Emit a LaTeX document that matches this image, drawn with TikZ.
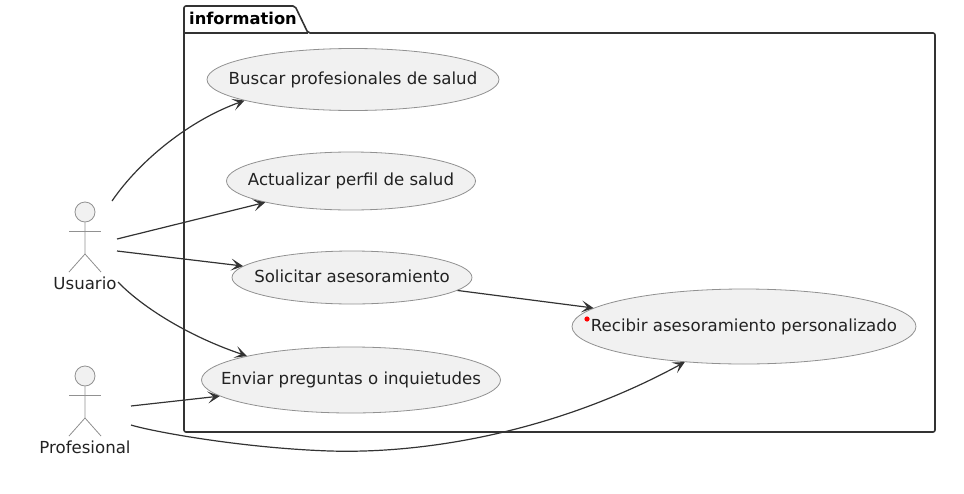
\documentclass[tikz,border=0pt]{standalone}
\usepackage{fontspec}
\setmainfont{DejaVu Sans}
\usetikzlibrary{arrows.meta, shapes.geometric}
\definecolor{mInk}{HTML}{222222}
\definecolor{mLine}{HTML}{919191}
\definecolor{mFill}{HTML}{F1F1F1}
\definecolor{mEdge}{HTML}{333333}
\newcommand{\uctext}[1]{\makebox[0pt]{\smash{\raisebox{-4.5pt}{#1}}}}
\tikzset{
  usecase/.style={ellipse, draw=mLine, fill=mFill, line width=0.8pt, inner sep=0pt, text=mInk, font=\fontsize{16.6}{19}\selectfont},
  actorlabel/.style={text=mInk, inner sep=0pt, font=\fontsize{16.6}{19}\selectfont},
  actorline/.style={draw=mLine, line width=0.8pt},
  edge/.style={draw=mEdge, line width=1.2pt, -{Stealth[length=12pt, width=12pt, inset=6pt]}}
}
\begin{document}
\begin{tikzpicture}[x=1pt, y=-1pt]
  \useasboundingbox (0,0) rectangle (964,493);
  % package
  \draw[mEdge, line width=1.6pt, rounded corners=2pt] (184,33) -- (184,6) -- (295,6) -- (308,33) -- (935,33) -- (935,432) -- (184,432) -- cycle;
  \draw[mEdge, line width=1.6pt] (184,33) -- (308,33);
  \node[text=black, inner sep=0pt, font=\fontsize{16.3}{19}\selectfont\bfseries] (pkglabel) at (243,18.5) {information};
  % use cases
  \node[usecase, minimum width=292pt, minimum height=62pt] (buscar) at (353,79.5) {\uctext{Buscar profesionales de salud}};
  \node[usecase, minimum width=249pt, minimum height=58pt] (actualizar) at (351,181) {\uctext{Actualizar perfil de salud}};
  \node[usecase, minimum width=240pt, minimum height=53pt] (solicitar) at (352,277.5) {\uctext{Solicitar asesoramiento}};
  \node[usecase, minimum width=299pt, minimum height=66pt] (enviar) at (351,380) {\uctext{Enviar preguntas o inquietudes}};
  \node[usecase, minimum width=344pt, minimum height=75pt] (recibir) at (744,326.5) {\uctext{Recibir asesoramiento personalizado}};
  \fill[red] (587,319) circle (2.6pt);
  % actors
  \foreach \n/\y/\t in {usuario/212/Usuario, profesional/376/Profesional} {
    \begin{scope}[shift={(85,\y)}]
      \node[circle, actorline, fill=mFill, inner sep=0pt, minimum size=20pt] (\n head) at (0,0) {};
      \draw[actorline] (\n head) -- (0,42) -- (-16,60);
      \draw[actorline] (0,42) -- (16,60);
      \draw[actorline] (-16,19) -- (16,19);
      \node[actorlabel] (\n) at (0,71) {\t};
    \end{scope}
  }
  % free ends beside the actors
  \coordinate (usuarioA) at (112,201);
  \coordinate (usuarioB) at (117,239);
  \coordinate (usuarioC) at (117,251);
  \coordinate (usuarioD) at (118,282);
  \coordinate (profesionalA) at (131,406);
  \coordinate (profesionalB) at (131,425);
  % connectors
  \draw[edge] (usuarioA) .. controls (140,160) and (190,120) .. (buscar.191.5);
  \draw[edge] (usuarioB) -- (actualizar.194);
  \draw[edge] (usuarioC) -- (solicitar.174);
  \draw[edge] (usuarioD) .. controls (140,305) and (185,335) .. (enviar.167);
  \draw[edge] (profesionalA) -- (enviar.187);
  \draw[edge] (solicitar.353) -- (recibir.173);
  \draw[edge] (profesionalB) .. controls (150,431) and (240,448) .. (330,451) .. controls (430,454) and (560,430) .. (recibir.211);
\end{tikzpicture}
\end{document}
